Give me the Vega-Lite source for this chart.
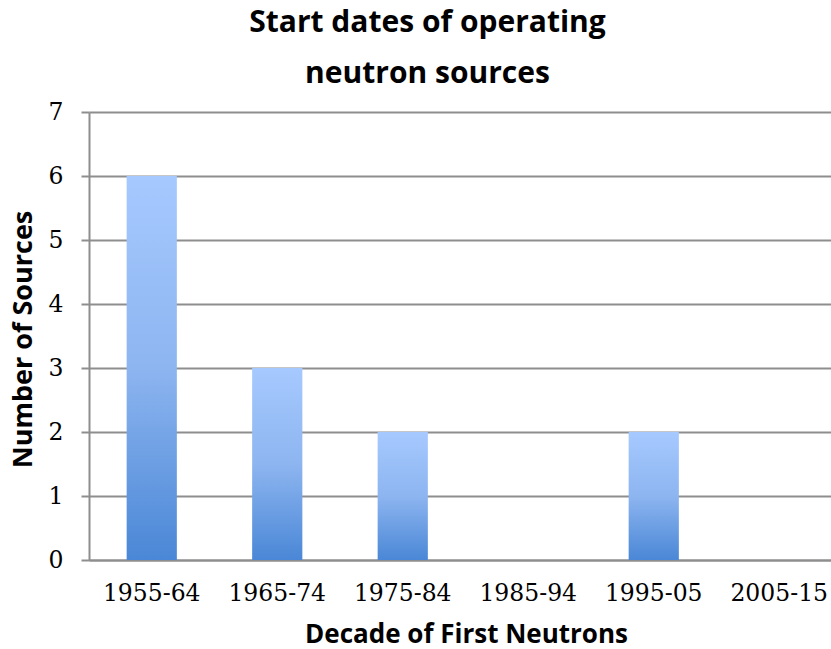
{
  "$schema": "https://vega.github.io/schema/vega-lite/v6.json",
  "autosize": "none",
  "width": 753,
  "height": 448,
  "padding": {"left": 89, "top": 112, "right": 0, "bottom": 89},
  "background": "white",
  "title": {
    "text": ["Start dates of operating", "neutron sources"],
    "font": "Open Sans",
    "fontSize": 30,
    "fontWeight": "bold",
    "color": "black",
    "lineHeight": 51,
    "anchor": "middle",
    "frame": "group",
    "dx": -38,
    "offset": 11
  },
  "data": {
    "values": [
      {"decade": "1955-64", "count": 6},
      {"decade": "1965-74", "count": 3},
      {"decade": "1975-84", "count": 2},
      {"decade": "1985-94", "count": 0},
      {"decade": "1995-05", "count": 2},
      {"decade": "2005-15", "count": 0}
    ]
  },
  "mark": {
    "type": "bar",
    "fill": {
      "gradient": "linear",
      "x1": 0, "y1": 0, "x2": 0, "y2": 1,
      "stops": [
        {"offset": 0, "color": "#a6c9ff"},
        {"offset": 0.5, "color": "#8db5f0"},
        {"offset": 1, "color": "#4a87d6"}
      ]
    }
  },
  "encoding": {
    "x": {
      "field": "decade",
      "type": "nominal",
      "sort": null,
      "scale": {"paddingInner": 0.6, "paddingOuter": 0.3},
      "axis": {
        "title": "Decade of First Neutrons",
        "titleFont": "Open Sans",
        "titleFontSize": 26,
        "titleFontWeight": "bold",
        "titleColor": "black",
        "titleX": 377,
        "titleY": 74,
        "titleBaseline": "middle",
        "labelFont": "DejaVu Serif",
        "labelFontSize": 23.5,
        "labelColor": "black",
        "labelAngle": 0,
        "labelPadding": 21,
        "ticks": false,
        "domainColor": "#8e8e8e",
        "domainWidth": 2
      }
    },
    "y": {
      "field": "count",
      "type": "quantitative",
      "scale": {"domain": [0, 7], "nice": false},
      "axis": {
        "title": "Number of Sources",
        "titleFont": "Open Sans",
        "titleFontSize": 27,
        "titleFontWeight": "bold",
        "titleColor": "black",
        "titleX": -66,
        "titleY": 227,
        "titleBaseline": "middle",
        "titleAlign": "center",
        "labelFont": "DejaVu Serif",
        "labelFontSize": 23.5,
        "labelColor": "black",
        "labelPadding": 18,
        "labelOverlap": false,
        "values": [0, 1, 2, 3, 4, 5, 6, 7],
        "tickSize": 8,
        "tickColor": "#8e8e8e",
        "tickWidth": 2,
        "domainColor": "#8e8e8e",
        "domainWidth": 2,
        "grid": true,
        "gridColor": "#8e8e8e",
        "gridWidth": 2
      }
    }
  },
  "config": {"view": {"stroke": null}}
}
